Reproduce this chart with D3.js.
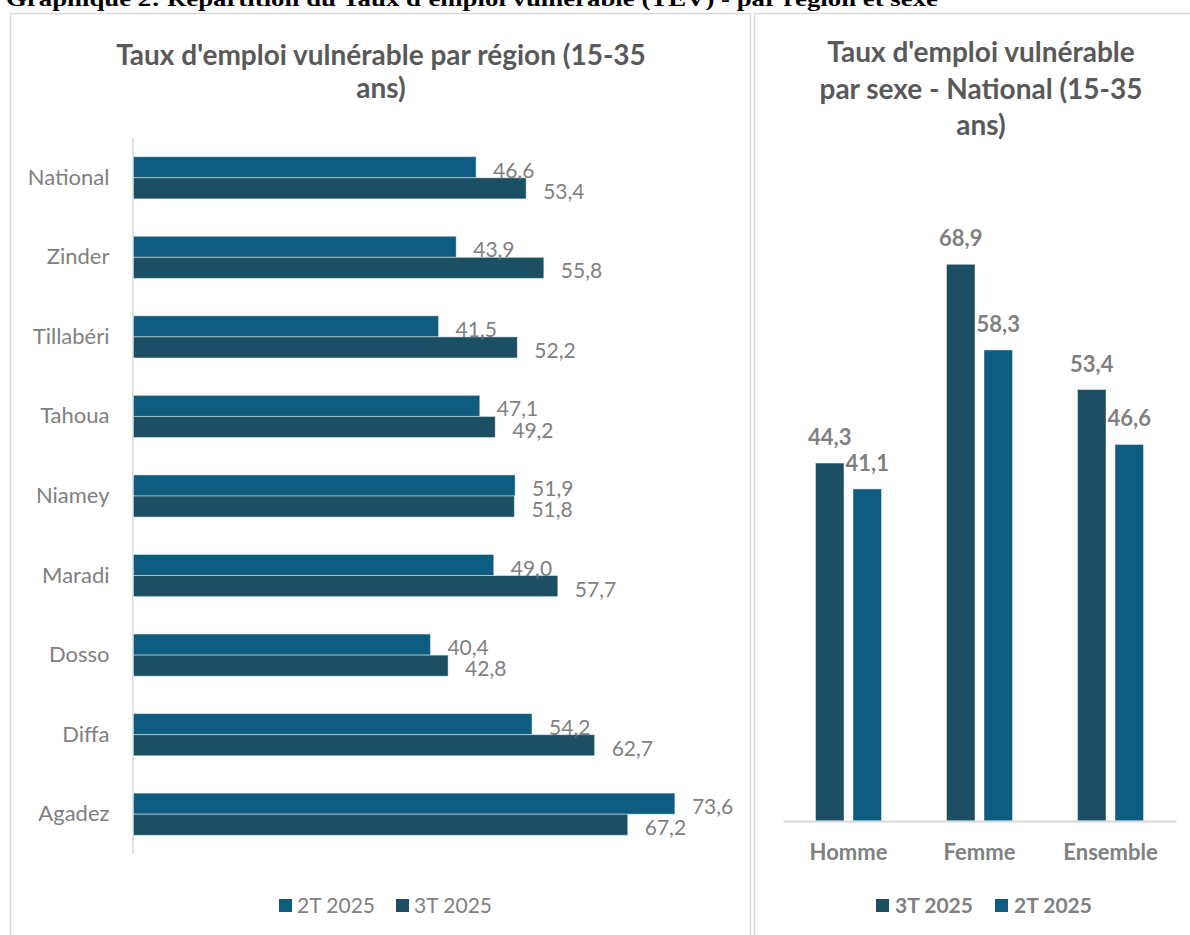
<!DOCTYPE html>
<html><head><meta charset="utf-8">
<script src="https://cdn.jsdelivr.net/npm/d3@7"></script>
<style>
html,body{margin:0;padding:0;background:#fff;overflow:hidden}
svg{display:block}
text{font-family:Lato,"Open Sans",sans-serif}
</style></head>
<body>
<svg id="c" width="1190" height="935"></svg>
<script>
// ---- data ----
const regions = ["National","Zinder","Tillabéri","Tahoua","Niamey","Maradi","Dosso","Diffa","Agadez"];
const region2T = [46.6,43.9,41.5,47.1,51.9,49.0,40.4,54.2,73.6];
const region3T = [53.4,55.8,52.2,49.2,51.8,57.7,42.8,62.7,67.2];
const sexes = ["Homme","Femme","Ensemble"];
const sex3T = [44.3,68.9,53.4];
const sex2T = [41.1,58.3,46.6];
const seriesRegion = ["2T 2025","3T 2025"];
const seriesSex = ["3T 2025","2T 2025"];
const mainTitle = "Graphique 2: Répartition du Taux d'emploi vulnérable (TEV) - par région et sexe";
const leftTitle = ["Taux d'emploi vulnérable par région (15-35","ans)"];
const rightTitle = ["Taux d'emploi vulnérable","par sexe - National (15-35","ans)"];
</script>
<script>
const color = {"2T 2025":"#0e5c80","3T 2025":"#1c4f63"};
const fmt = v => d3.format(".1f")(v).replace(".",",");
const grey = "#808080", titleGrey = "#595959";
const svg = d3.select("#c");

// main title (cut at top)
svg.append("text").attr("x",6).attr("y",6)
  .style("font-family","'Liberation Serif','Times New Roman',serif")
  .attr("font-weight","bold").attr("font-size",21)
  .attr("textLength",932).attr("lengthAdjust","spacingAndGlyphs")
  .attr("fill","#000").text(mainTitle);

// panels
svg.append("rect").attr("x",10.5).attr("y",13.5).attr("width",740).attr("height",940)
  .attr("fill","none").attr("stroke","#d9d9d9").attr("stroke-width",1.5);
svg.append("rect").attr("x",754.5).attr("y",13.5).attr("width",450).attr("height",940)
  .attr("fill","none").attr("stroke","#d9d9d9").attr("stroke-width",1.5);

// ---- left chart ----
leftTitle.forEach((t,i)=>svg.append("text").attr("x",381).attr("y",65+i*33)
  .attr("text-anchor","middle").attr("font-weight","bold").attr("font-size",28)
  .attr("fill",titleGrey).text(t));

const y = d3.scaleBand().domain(regions).range([138,854]).paddingInner(0.47).paddingOuter(0.235);
const ySub = d3.scaleBand().domain(seriesRegion).range([0,y.bandwidth()]);
const x = d3.scaleLinear().domain([0,80]).range([133,722]);

const gL = svg.append("g");
const rows = regions.map((r,i)=>({r, vals:[{s:"2T 2025",v:region2T[i]},{s:"3T 2025",v:region3T[i]}]}));
const grp = gL.selectAll("g.row").data(rows).join("g").attr("class","row")
  .attr("transform",d=>`translate(0,${y(d.r)})`);
grp.selectAll("rect").data(d=>d.vals).join("rect")
  .attr("x",x(0)).attr("y",d=>ySub(d.s)).attr("width",d=>x(d.v)-x(0)).attr("height",ySub.bandwidth())
  .attr("fill",d=>color[d.s]).attr("stroke","rgba(255,255,255,0.45)").attr("stroke-width",1);
grp.selectAll("text").data(d=>d.vals).join("text")
  .attr("x",d=>x(d.v)+17).attr("y",d=>ySub(d.s)+ySub.bandwidth())
  .attr("font-size",21).attr("fill",grey).text(d=>fmt(d.v));

const axL = svg.append("g").attr("transform",`translate(${x(0)-0.5},0)`)
  .call(d3.axisLeft(y).tickSize(0).tickPadding(23));
axL.select(".domain").attr("stroke","#d9d9d9").attr("stroke-width",1.5);
axL.selectAll("text").attr("font-size",22).attr("fill",grey).style("font-family","Lato");

// left legend
const legL = [{s:"2T 2025",x:279},{s:"3T 2025",x:396}];
legL.forEach(l=>{
  svg.append("rect").attr("x",l.x).attr("y",899).attr("width",13).attr("height",13).attr("fill",color[l.s]);
  svg.append("text").attr("x",l.x+18).attr("y",913).attr("font-size",21).attr("fill",grey).text(l.s);
});

// ---- right chart ----
rightTitle.forEach((t,i)=>svg.append("text").attr("x",981).attr("y",62+i*36.5)
  .attr("text-anchor","middle").attr("font-weight","bold").attr("font-size",28)
  .attr("fill",titleGrey).text(t));

const xb = d3.scaleBand().domain(sexes).range([783,1176]).paddingInner(0.496).paddingOuter(0.248);
const xs = d3.scaleBand().domain(seriesSex).range([0,xb.bandwidth()]).paddingInner(0.24);
const yv = d3.scaleLinear().domain([0,80]).range([821,174.6]);

const cols = sexes.map((c,i)=>({c, vals:[{s:"3T 2025",v:sex3T[i]},{s:"2T 2025",v:sex2T[i]}]}));
const gR = svg.append("g");
const cg = gR.selectAll("g.col").data(cols).join("g").attr("class","col")
  .attr("transform",d=>`translate(${xb(d.c)},0)`);
cg.selectAll("rect").data(d=>d.vals).join("rect")
  .attr("x",d=>xs(d.s)).attr("y",d=>yv(d.v)).attr("width",xs.bandwidth()).attr("height",d=>yv(0)-yv(d.v))
  .attr("fill",d=>color[d.s]).attr("stroke","rgba(255,255,255,0.45)").attr("stroke-width",1);
cg.selectAll("text").data(d=>d.vals).join("text")
  .attr("x",d=>xs(d.s)+xs.bandwidth()/2).attr("y",d=>yv(d.v)-18)
  .attr("text-anchor","middle").attr("font-size",22).attr("font-weight","bold")
  .attr("fill",grey).text(d=>fmt(d.v));

const axR = svg.append("g").attr("transform",`translate(0,${yv(0)})`)
  .call(d3.axisBottom(xb).tickSize(0).tickSizeOuter(0).tickPadding(23));
axR.select(".domain").attr("stroke","#d9d9d9").attr("stroke-width",2);
axR.selectAll("text").attr("font-size",22).attr("font-weight","bold").attr("fill",grey).style("font-family","Lato");

const legR = [{s:"3T 2025",x:876},{s:"2T 2025",x:995}];
legR.forEach(l=>{
  svg.append("rect").attr("x",l.x).attr("y",899).attr("width",13).attr("height",13).attr("fill",color[l.s]);
  svg.append("text").attr("x",l.x+19).attr("y",913).attr("font-size",21).attr("font-weight","bold").attr("fill",grey).text(l.s);
});
</script>
</body></html>
